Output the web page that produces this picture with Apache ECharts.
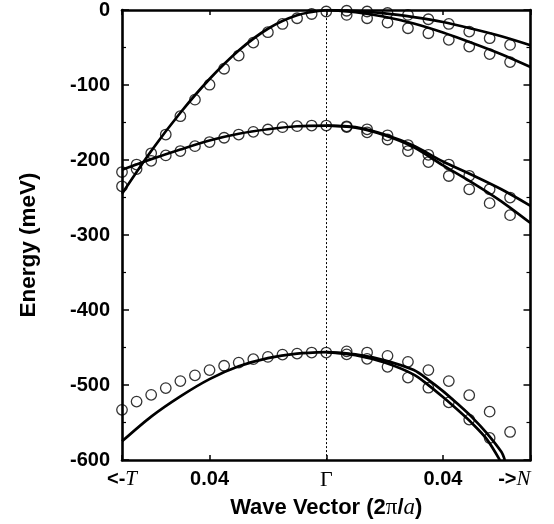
<!DOCTYPE html>
<html>
<head>
<meta charset="utf-8">
<script src="https://cdn.jsdelivr.net/npm/echarts@6/dist/echarts.min.js"></script>
<style>html,body{margin:0;padding:0;background:#fff;}#c{width:554px;height:524px;}</style>
</head>
<body>
<div id="c"></div>
<script>
// ---- data ----
const qLeft = [-0.07, -0.065, -0.06, -0.055, -0.05, -0.045, -0.04, -0.035, -0.03, -0.025, -0.02, -0.015, -0.01, -0.005, 0];
const qRight = [0.007, 0.014, 0.021, 0.028, 0.035, 0.042, 0.049, 0.056, 0.063];

// measured points (circles), left side (toward T)
const topLeftE = [-235, -212, -191, -166, -141.6, -119.5, -99.6, -78.3, -60.7, -43.4, -29.6, -18.6, -11, -5.3, -2];
const midLeftE = [-216, -206, -201, -193.8, -188, -181.5, -176, -170.3, -166, -162.4, -159.3, -156.2, -154.9, -154, -154];
const botLeftE = [-533, -522, -513, -504, -494.7, -487, -480, -474.2, -470, -465.5, -462.4, -459.3, -458, -456.6, -456.6];
// measured points (circles), right side (toward N)
const topRightUpperE = [-1, -2, -4, -6.6, -12.3, -18.6, -28.8, -37.6, -46.5];
const topRightLowerE = [-6.6, -11, -16.8, -24.3, -31, -39.8, -48.7, -58.8, -69.4];
const midRightUpperE = [-155, -159, -167, -180, -193, -206, -221, -239, -250];
const midRightLowerE = [-156, -163, -172.6, -188, -202.7, -221.3, -239, -257.5, -273.5];
const botRightUpperE = [-455, -456.6, -461, -469, -480, -494.7, -513.5, -535.4, -562.5];
const botRightLowerE = [-459, -465, -475.7, -490, -503.5, -523, -546, -570.5, null];

// calculated bands (solid lines)
const lineQLeft = [-0.07, -0.06, -0.05, -0.04, -0.03, -0.02, -0.01, 0];
const topLeftLine = [-245, -188, -137, -92, -54, -25, -7, 0];
const midLeftLine = [-213, -199, -186, -174, -165, -159, -155, -154];
const botLeftLine = [-575, -542, -515, -492, -475, -464, -458, -456];

const lineQRight = [0, 0.01, 0.02, 0.03, 0.04, 0.05, 0.06, 0.07];
const topRightUpperLine = [0, -1.5, -4.5, -9.5, -16, -25, -35, -47];
const topRightLowerLine = [0, -3, -9, -18, -30, -44, -59, -76];
const midRightUpperLine = [-154, -156, -166, -181, -202, -220, -239, -261];
const midRightLowerLine = [-154, -157, -167, -183, -207, -230, -255, -284];

const botQUpper = [0, 0.01, 0.02, 0.03, 0.035, 0.04, 0.045, 0.05, 0.055, 0.06, 0.0612];
const botRightUpperLine = [-456, -459, -467, -480, -493, -508, -525, -543, -564, -589, -600];
const botQLower = [0, 0.01, 0.02, 0.03, 0.035, 0.04, 0.045, 0.05, 0.055, 0.0595];
const botRightLowerLine = [-456, -460, -470, -486, -500, -516, -533, -551, -572, -600];

const xTickValues = [-0.07, -0.04, 0, 0.04, 0.07];
const xTickLabels = ['<-T', '0.04', 'Γ', '0.04', '->N'];
const yTicks = [0, -100, -200, -300, -400, -500, -600];

// ---- build ----
function zip(xs, ys) {
  const out = [];
  for (let i = 0; i < xs.length; i++) if (ys[i] !== null && ys[i] !== undefined) out.push([xs[i], ys[i]]);
  return out;
}
const SANS = '"Liberation Sans", Arial, Helvetica, sans-serif';
const SERIF = '"Liberation Serif", "Times New Roman", serif';

function fmtX(v) {
  let idx = -1;
  for (let i = 0; i < xTickValues.length; i++) if (Math.abs(xTickValues[i] - v) < 1e-9) idx = i;
  if (idx < 0) return '';
  const t = xTickLabels[idx];
  if (t === 'Γ') return '{g|Γ}';
  if (t.startsWith('<-')) return '{s|<-}{i|' + t.slice(2) + '}';
  if (t.startsWith('->')) return '{s|->}{i|' + t.slice(2) + '}';
  return '{s|' + t + '}';
}

const circleStyle = { color: 'rgba(255,255,255,0)', borderColor: '#000', borderWidth: 1.3 };
function scatter(data) {
  return { type: 'scatter', data: data, symbol: 'circle', symbolSize: 10.5, itemStyle: circleStyle, z: 3, silent: true };
}
function curve(data) {
  return { type: 'line', data: data, smooth: 0.3, symbol: 'none', lineStyle: { color: '#000', width: 2.7 }, z: 4, silent: true };
}

const series = [
  curve(zip(lineQLeft, topLeftLine)),
  curve(zip(lineQLeft, midLeftLine)),
  curve(zip(lineQLeft, botLeftLine)),
  curve(zip(lineQRight, topRightUpperLine)),
  curve(zip(lineQRight, topRightLowerLine)),
  curve(zip(lineQRight, midRightUpperLine)),
  curve(zip(lineQRight, midRightLowerLine)),
  curve(zip(botQUpper, botRightUpperLine)),
  curve(zip(botQLower, botRightLowerLine)),
  scatter(zip(qLeft, topLeftE)),
  scatter(zip(qLeft, midLeftE)),
  scatter(zip(qLeft, botLeftE)),
  scatter(zip(qRight, topRightUpperE)),
  scatter(zip(qRight, topRightLowerE)),
  scatter(zip(qRight, midRightUpperE)),
  scatter(zip(qRight, midRightLowerE)),
  scatter(zip(qRight, botRightUpperE)),
  scatter(zip(qRight, botRightLowerE))
];
series[0].markLine = {
  silent: true, symbol: 'none', label: { show: false },
  lineStyle: { type: [2, 2], color: '#000', width: 1 },
  data: [{ xAxis: 0 }]
};

const axisLineStyle = { show: true, onZero: false, lineStyle: { color: '#000', width: 2.6 } };
const xRich = {
  s: { fontFamily: SANS, fontWeight: 'bold', fontSize: 20, color: '#000' },
  i: { fontFamily: SERIF, fontStyle: 'italic', fontSize: 21, color: '#000' },
  g: { fontFamily: SERIF, fontSize: 22, color: '#000' }
};

const option = {
  animation: false,
  backgroundColor: '#fff',
  grid: { left: 122, right: 23.5, top: 10, bottom: 62, containLabel: false },
  xAxis: [
    {
      type: 'value', min: -0.07, max: 0.07, position: 'bottom',
      axisLine: axisLineStyle,
      axisTick: { show: true, inside: true, length: 5, customValues: xTickValues, lineStyle: { color: '#000', width: 1.5 } },
      axisLabel: { show: true, customValues: xTickValues, formatter: fmtX, rich: xRich, margin: 9, alignMaxLabel: 'right' },
      splitLine: { show: false },
      name: '{b|Wave Vector (2}{p|π}{b|/}{i|a}{b|)}',
      nameLocation: 'middle', nameGap: 30,
      nameTextStyle: {
        rich: {
          b: { fontFamily: SANS, fontWeight: 'bold', fontSize: 22, color: '#000' },
          p: { fontFamily: SERIF, fontSize: 23, color: '#000' },
          i: { fontFamily: SERIF, fontStyle: 'italic', fontSize: 23, color: '#000' }
        }
      }
    },
    {
      type: 'value', min: -0.07, max: 0.07, position: 'top',
      axisLine: axisLineStyle,
      axisTick: { show: true, inside: true, length: 5, customValues: xTickValues, lineStyle: { color: '#000', width: 1.5 } },
      axisLabel: { show: false }, splitLine: { show: false }
    }
  ],
  yAxis: [
    {
      type: 'value', min: -600, max: 0, interval: 100, position: 'left',
      axisLine: axisLineStyle,
      axisTick: { show: true, inside: true, length: 7, lineStyle: { color: '#000', width: 1.5 } },
      minorTick: { show: true, splitNumber: 2, length: 4, lineStyle: { color: '#000', width: 1.2 } },
      axisLabel: { show: true, margin: 12, fontFamily: SANS, fontWeight: 'bold', fontSize: 20, color: '#000',
        formatter: function (v) { return yTicks.indexOf(v) >= 0 ? String(v) : ''; } },
      splitLine: { show: false }, minorSplitLine: { show: false },
      name: 'Energy (meV)', nameLocation: 'middle', nameGap: 82,
      nameTextStyle: { fontFamily: SANS, fontWeight: 'bold', fontSize: 22.5, color: '#000', padding: [0, 20, 0, 0] }
    },
    {
      type: 'value', min: -600, max: 0, interval: 100, position: 'right',
      axisLine: axisLineStyle,
      axisTick: { show: true, inside: true, length: 7, lineStyle: { color: '#000', width: 1.5 } },
      minorTick: { show: true, splitNumber: 2, length: 4, lineStyle: { color: '#000', width: 1.2 } },
      axisLabel: { show: false }, splitLine: { show: false }
    }
  ],
  series: series
};

const chart = echarts.init(document.getElementById('c'), null, { renderer: 'canvas' });
chart.setOption(option);
</script>
</body>
</html>
